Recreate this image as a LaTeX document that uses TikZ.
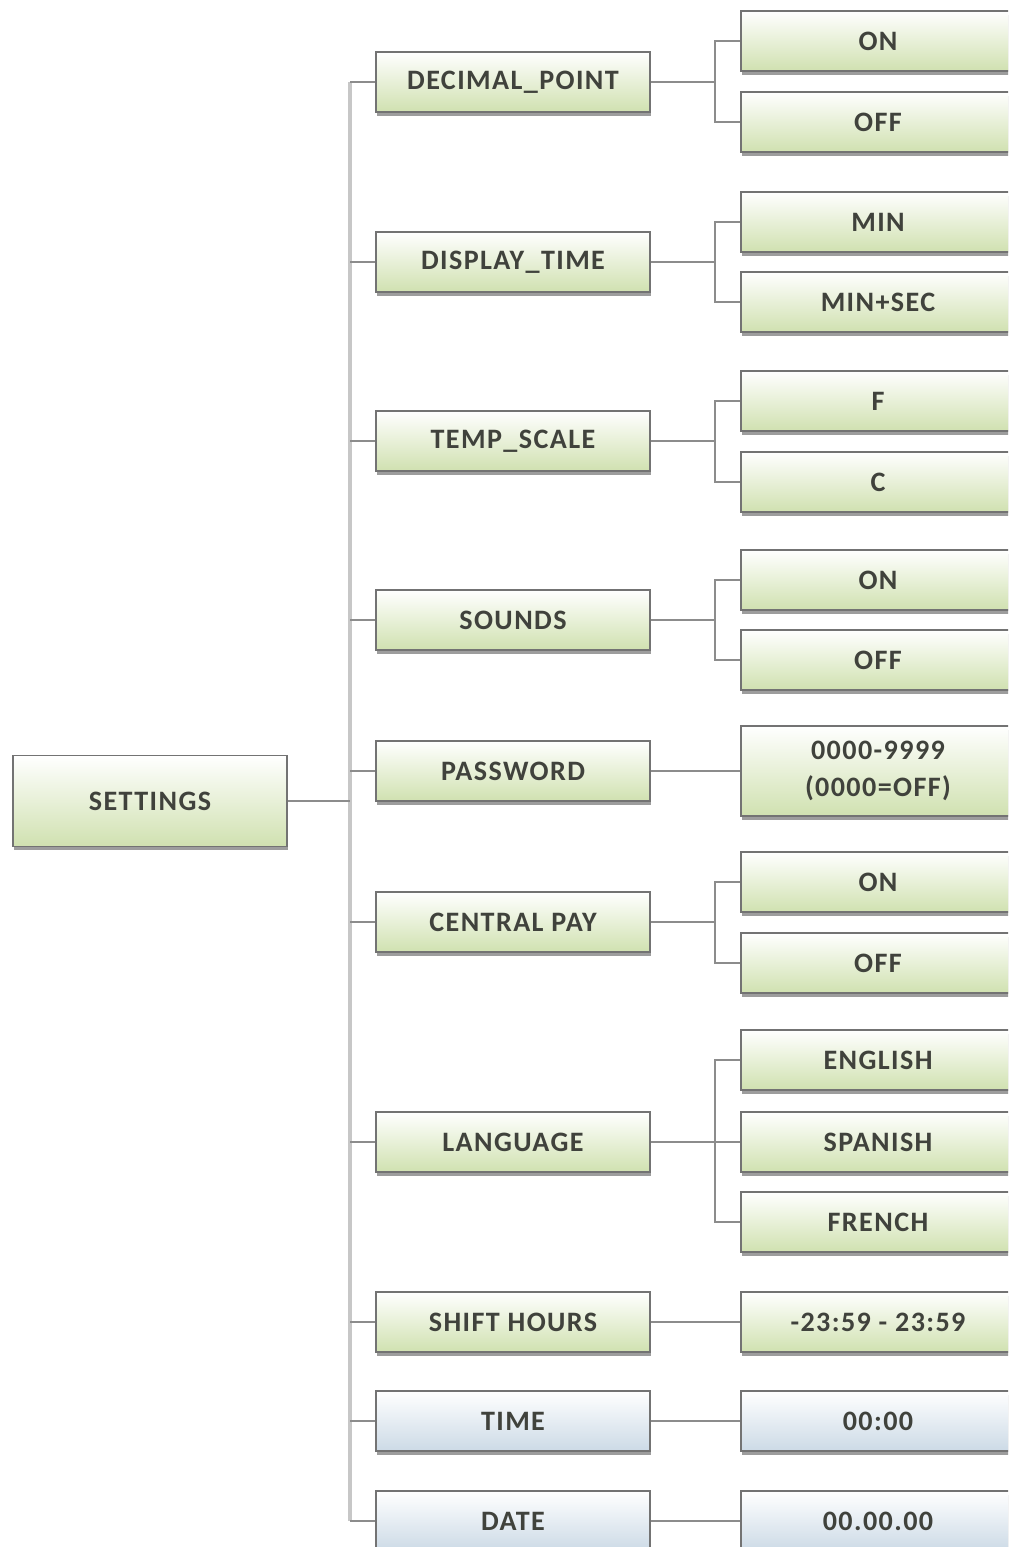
\documentclass[tikz,border=0pt]{standalone}
\usepackage{fontspec}
\setmainfont[LetterSpace=5]{Carlito}
\usetikzlibrary{shadows}
\definecolor{boxgreen}{RGB}{208,225,176}
\definecolor{boxblue}{RGB}{204,218,230}
\definecolor{textgray}{RGB}{64,66,60}
\tikzset{
  menubox/.style={draw=black!55, line width=0.9pt, minimum width=5.48cm, minimum height=1.2cm,
    inner sep=0pt, align=center, top color=white, bottom color=boxgreen,
    drop shadow={shadow xshift=0.5pt, shadow yshift=-2pt, opacity=0.55, fill=black!70},
    font=\bfseries\fontsize{16}{21}\selectfont, text=textgray},
  bluebox/.style={menubox, bottom color=boxblue},
  link/.style={draw=black!45, line width=1.1pt},
  trunkline/.style={draw=black!22, line width=2pt},
}
\begin{document}
\begin{tikzpicture}[x=0.02cm, y=-0.02cm]
\useasboundingbox (0,0) rectangle (1008,1547);
\clip (0,0) rectangle (1008,1547);

% root
\node[menubox, minimum height=1.82cm] (settings) at (150,801) {SETTINGS};

% menu entries
\node[menubox] (dp)   at (513,82)   {DECIMAL\_POINT};
\node[menubox] (dt)   at (513,262)  {DISPLAY\_TIME};
\node[menubox] (ts)   at (513,441)  {TEMP\_SCALE};
\node[menubox] (snd)  at (513,620)  {SOUNDS};
\node[menubox] (pw)   at (513,771)  {PASSWORD};
\node[menubox] (cp)   at (513,922)  {CENTRAL PAY};
\node[menubox] (lang) at (513,1142) {LANGUAGE};
\node[menubox] (sh)   at (513,1322) {SHIFT HOURS};
\node[bluebox] (time) at (513,1421) {TIME};
\node[bluebox] (date) at (513,1521) {DATE};

% values
\node[menubox] (dp1) at (878,41)  {ON};
\node[menubox] (dp2) at (878,122) {OFF};
\node[menubox] (dt1) at (878,222) {MIN};
\node[menubox] (dt2) at (878,302) {MIN+SEC};
\node[menubox] (ts1) at (878,401) {F};
\node[menubox] (ts2) at (878,482) {C};
\node[menubox] (snd1) at (878,580) {ON};
\node[menubox] (snd2) at (878,660) {OFF};
\node[menubox, minimum height=1.8cm] (pw1) at (878,771) {0000-9999\\(0000=OFF)};
\node[menubox] (cp1) at (878,882) {ON};
\node[menubox] (cp2) at (878,963) {OFF};
\node[menubox] (lang1) at (878,1060) {ENGLISH};
\node[menubox] (lang2) at (878,1142) {SPANISH};
\node[menubox] (lang3) at (878,1222) {FRENCH};
\node[menubox] (sh1) at (878,1322) {-23:59 - 23:59};
\node[bluebox] (time1) at (878,1421) {00:00};
\node[bluebox] (date1) at (878,1521) {00.00.00};

% trunk
\coordinate (trunk) at (350,801);
\draw[trunkline] (trunk |- dp.west) -- (trunk |- date.west);
\draw[link] (settings.east) -- (trunk);
\foreach \m in {dp,dt,ts,snd,pw,cp,lang,sh,time,date}
  \draw[link] (trunk |- \m.west) -- (\m.west);

% brackets
\foreach \m/\c in {dp/dp1,dp/dp2,dt/dt1,dt/dt2,ts/ts1,ts/ts2,snd/snd1,snd/snd2,
    pw/pw1,cp/cp1,cp/cp2,lang/lang1,lang/lang2,lang/lang3,sh/sh1,time/time1,date/date1}
  \draw[link] (\m.east) -- ++(64,0) |- (\c.west);
\end{tikzpicture}
\end{document}
